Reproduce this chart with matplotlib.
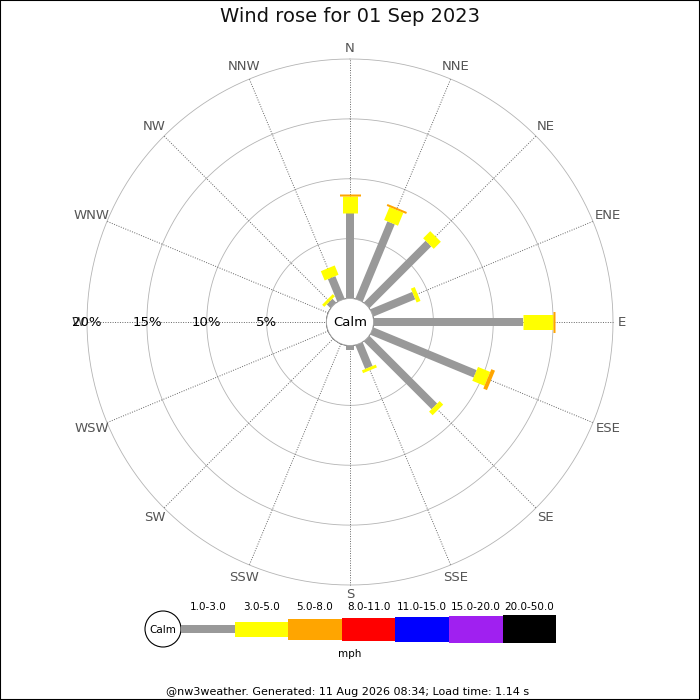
import numpy as np
import matplotlib
matplotlib.use("Agg")
import matplotlib.pyplot as plt
from matplotlib.patches import Rectangle, Circle

# data (percent of the day per direction and speed band)
directions = ["N", "NNE", "NE", "ENE", "E", "ESE", "SE", "SSE",
              "S", "SSW", "SW", "WSW", "W", "WNW", "NW", "NNW"]
pct_1_3 = [7.1, 7.0, 7.3, 3.8, 12.5, 9.35, 8.0, 2.15, 0.35, 0, 0, 0, 0, 0, 0.45, 2.05]
pct_3_5 = [1.5, 1.17, 0.84, 0.35, 2.5, 1.1, 0.42, 0.25, 0, 0, 0, 0, 0, 0, 0.25, 0.84]
pct_5_8 = [0.13, 0.17, 0, 0, 0.17, 0.33, 0, 0, 0, 0, 0, 0, 0, 0, 0, 0]
speed_bins = ["1.0-3.0", "3.0-5.0", "5.0-8.0", "8.0-11.0", "11.0-15.0", "15.0-20.0", "20.0-50.0"]
ring_pcts = [5, 10, 15, 20]

title = "Wind rose for 01 Sep 2023"
footer = "@nw3weather. Generated: 11 Aug 2026 08:34; Load time: 1.14 s"

# styling
bin_colors = ["#999999", "#ffff00", "#ffa500", "#ff0000", "#0000ff", "#a020f0", "#000000"]
bin_px = [8, 15, 21, 23, 25, 27, 28]   # bar thickness in pixels
DPI = 100
W = H = 700
CX, CY = 350, 322      # centre of the rose in pixels
R_OUT = 263            # pixel radius of the 20% ring
R_CALM = 23.5          # pixel radius of the calm circle
RMAX = 20
RORIG = -RMAX * R_CALM / (R_OUT - R_CALM)


def px_to_pct(r):
    return r / R_OUT * (RMAX - RORIG) + RORIG


fig = plt.figure(figsize=(W / DPI, H / DPI), dpi=DPI)
ax = fig.add_axes([(CX - R_OUT) / W, (H - CY - R_OUT) / H, 2 * R_OUT / W, 2 * R_OUT / H],
                  projection="polar")
ax.set_theta_zero_location("N")
ax.set_theta_direction(-1)
ax.set_ylim(0, RMAX)
ax.set_rorigin(RORIG)
ax.grid(False)
ax.set_xticks([])
ax.set_yticks([])
for sp in ax.spines.values():
    sp.set_visible(False)
ax.patch.set_visible(False)

angles = np.radians(np.arange(16) * 22.5)
full = np.linspace(0, 2 * np.pi, 361)

# rings and spokes
for p in ring_pcts:
    ax.plot(full, np.full_like(full, p), color="#b4b4b4", lw=0.6, zorder=1, clip_on=False)
for th in angles:
    ax.plot([th, th], [0, RMAX], color="#666666", lw=0.7, ls=(0, (1, 1.5)), zorder=1,
            clip_on=False)

# bars
series = [pct_1_3, pct_3_5, pct_5_8]
for i, th in enumerate(angles):
    base = 0.0
    for b, vals in enumerate(series):
        v = vals[i]
        if v > 0:
            ax.plot([th, th], [base, base + v], color=bin_colors[b], lw=bin_px[b] * 72 / DPI,
                    solid_capstyle="butt", zorder=3 + b)
            base += v

# ring labels along the W spoke
for p in ring_pcts:
    ax.text(np.radians(270), p, f"{p}%", ha="center", va="center", fontsize=9.5,
            color="black", zorder=10)

# compass labels
for th, d in zip(angles, directions):
    w = 6.8 * len(d)
    r = 268 + 0.5 * (w * abs(np.sin(th)) + 10 * abs(np.cos(th)))
    ax.text(th, px_to_pct(r), d, ha="center", va="center", fontsize=9.5, color="#555555",
            zorder=9)

fig.text(0.5, 1 - 17 / H, title, ha="center", va="center", fontsize=14, color="#111111")

# overlay in pixel coordinates: calm disc and legend
lg = fig.add_axes([0, 0, 1, 1])
lg.set_xlim(0, W)
lg.set_ylim(H, 0)
lg.axis("off")
lg.patch.set_visible(False)
lg.add_patch(Circle((CX, CY), R_CALM, facecolor="white", edgecolor="#b4b4b4", lw=0.6))
lg.text(CX, CY, "Calm", ha="center", va="center", fontsize=9.5)

lg.add_patch(Circle((163, 629), 18, facecolor="white", edgecolor="black", lw=0.8))
lg.text(163, 630, "Calm", ha="center", va="center", fontsize=7.5)
seg_w = 53.6
x0 = 181
for k, (lab, col) in enumerate(zip(speed_bins, bin_colors)):
    h = bin_px[k]
    lg.add_patch(Rectangle((x0 + k * seg_w, 629 - h / 2), seg_w, h, facecolor=col,
                           edgecolor="none"))
    lg.text(x0 + (k + 0.5) * seg_w, 607, lab, ha="center", va="center", fontsize=7.5)
lg.text(350, 654, "mph", ha="center", va="center", fontsize=7.5)
lg.text(348, 692, footer, ha="center", va="center", fontsize=8)

fig.patches.append(Rectangle((0, 0), 1, 1, transform=fig.transFigure, fill=False,
                             edgecolor="black", lw=1.5))

fig.savefig("out.png", dpi=DPI)
